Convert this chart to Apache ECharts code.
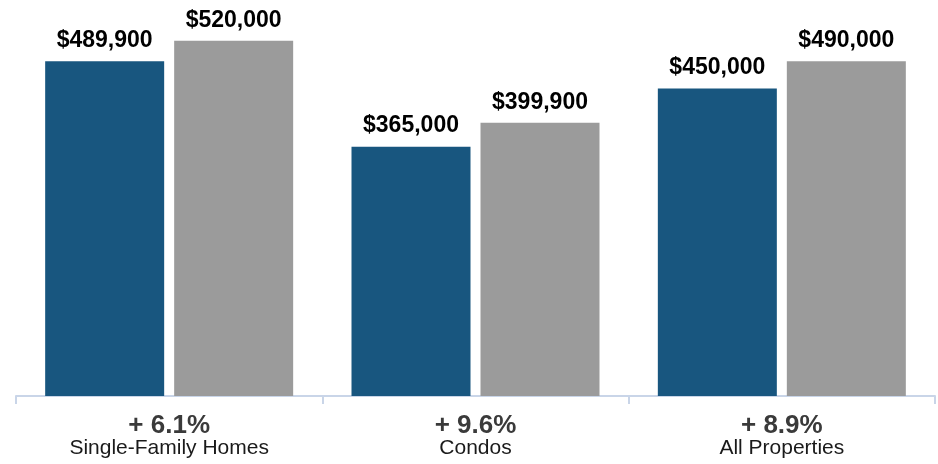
<!DOCTYPE html>
<html>
<head>
<meta charset="utf-8">
<script src="https://cdn.jsdelivr.net/npm/echarts@6/dist/echarts.min.js"></script>
<style>
html, body { margin: 0; padding: 0; background: #fff; }
#main { width: 938px; height: 464px; }
</style>
</head>
<body>
<div id="main"></div>
<script>
var categories = ['Single-Family Homes', 'Condos', 'All Properties'];
var changes = ['+ 6.1%', '+ 9.6%', '+ 8.9%'];
var priorYear = [489900, 365000, 450000];
var currentYear = [520000, 399900, 490000];

var money = function(p) {
	return '$' + p.value.toLocaleString('en-US');
};

var myChart = echarts.init(document.getElementById('main'));
var option = {
	animation : false,
	textStyle : {
		fontFamily : 'Liberation Sans, Arial, sans-serif'
	},
	grid : {
		left : 16,
		right : 3,
		top : 10,
		bottom : 68
	},
	xAxis : {
		type : 'category',
		data : categories,
		axisLine : {
			lineStyle : { color : '#c9d5e8', width : 2 }
		},
		axisTick : {
			show : true,
			length : 8,
			lineStyle : { color : '#c9d5e8', width : 2 }
		},
		axisLabel : {
			margin : 18,
			formatter : function(value, idx) {
				return '{a|' + changes[idx] + '}\n{b|' + value + '}';
			},
			rich : {
				a : {
					fontSize : 26,
					fontWeight : 'bold',
					color : '#3a3a3a',
					lineHeight : 23
				},
				b : {
					fontSize : 21,
					color : '#1a1a1a',
					lineHeight : 23
				}
			}
		}
	},
	yAxis : {
		type : 'value',
		min : 0,
		max : 565000,
		show : false,
		splitLine : { show : false }
	},
	series : [ {
		name : 'Prior',
		type : 'bar',
		data : priorYear,
		barWidth : 119,
		barGap : '8.4%',
		itemStyle : { color : '#18567f' },
		label : {
			show : true,
			position : 'top',
			distance : 9,
			formatter : money,
			fontSize : 23,
			fontWeight : 'bold',
			color : '#000'
		}
	}, {
		name : 'Current',
		type : 'bar',
		data : currentYear,
		barWidth : 119,
		itemStyle : { color : '#9b9b9b' },
		label : {
			show : true,
			position : 'top',
			distance : 9,
			formatter : money,
			fontSize : 23,
			fontWeight : 'bold',
			color : '#000'
		}
	} ]
};
myChart.setOption(option);
</script>
</body>
</html>
